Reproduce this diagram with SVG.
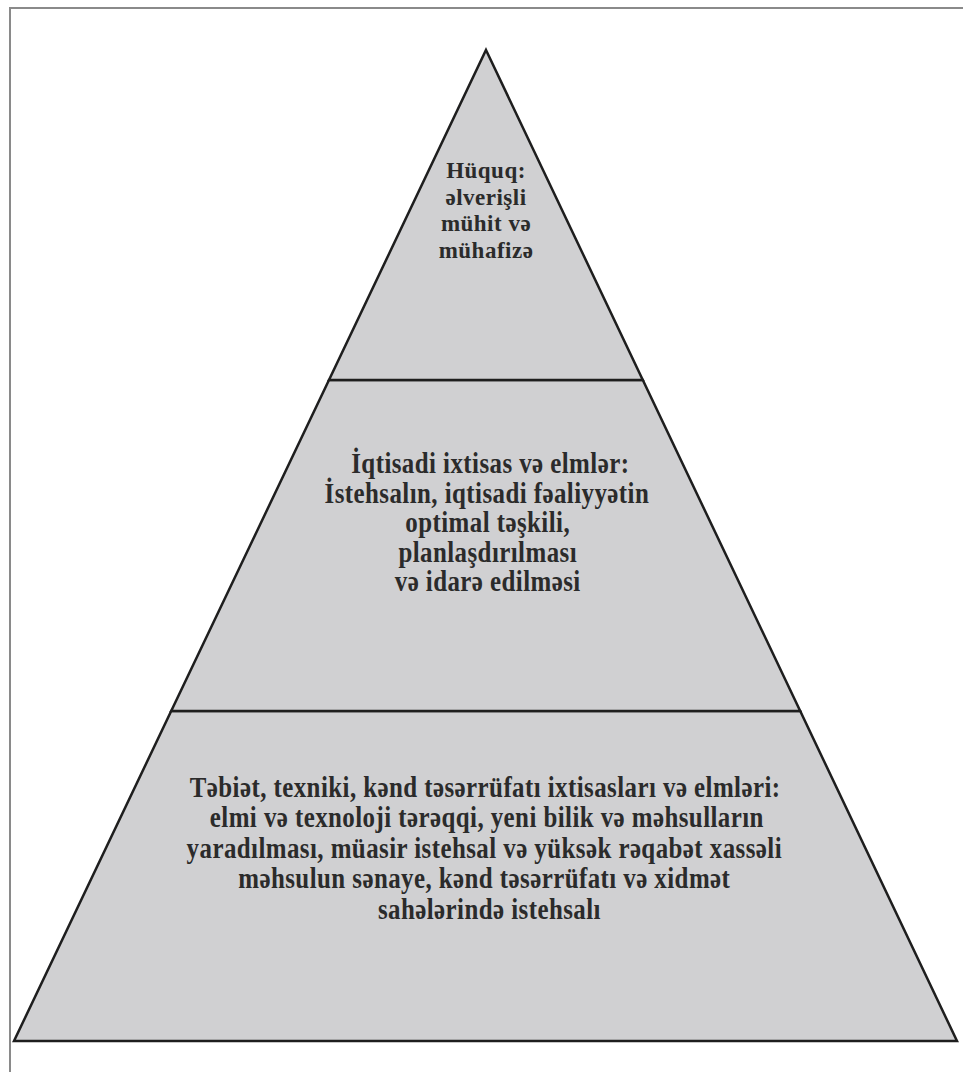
<svg xmlns="http://www.w3.org/2000/svg" width="963" height="1072" viewBox="0 0 963 1072">
<style>
.tier{fill:#d0d0d2;stroke:#1e1e1e;stroke-width:2.5;stroke-linejoin:miter}
.frame{stroke:#8a8a8a;stroke-width:2;fill:none}
.t{font-family:"Liberation Serif","Times New Roman",serif;font-weight:bold;font-size:29px;fill:#2b2b2b;text-anchor:middle;letter-spacing:0.5px}
.s{font-size:23px}
</style>
<rect width="963" height="1072" fill="#ffffff"/>
<path class="frame" d="M10,1072 V8 H963"/>
<g id="tier-bottom">
<polygon class="tier" points="171.2,711 800.2,711 957,1041 14,1041"/>
<g transform="translate(486,0) scale(0.86,1)">
<text class="t" x="-1" y="797">Təbiət, texniki, kənd təsərrüfatı ixtisasları və elmləri:</text>
<text class="t" x="1" y="827.5">elmi və texnoloji tərəqqi, yeni bilik və məhsulların</text>
<text class="t" x="-2" y="858">yaradılması, müasir istehsal və yüksək rəqabət xassəli</text>
<text class="t" x="-2" y="888.5">məhsulun sənaye, kənd təsərrüfatı və xidmət</text>
<text class="t" x="4" y="919">sahələrində istehsalı</text>
</g>
</g>
<g id="tier-middle">
<polygon class="tier" points="329,380 642.8,380 800.2,711 171.2,711"/>
<g transform="translate(486,0) scale(0.86,1)">
<text class="t" x="5" y="473">İqtisadi ixtisas və elmlər:</text>
<text class="t" x="1" y="503">İstehsalın, iqtisadi fəaliyyətin</text>
<text class="t" x="2" y="532">optimal təşkili,</text>
<text class="t" x="2" y="562">planlaşdırılması</text>
<text class="t" x="2" y="591">və idarə edilməsi</text>
</g>
</g>
<g id="tier-top">
<polygon class="tier" points="486,50 642.8,380 329,380"/>
<text class="t s" x="486" y="178">Hüquq:</text>
<text class="t s" x="486" y="204.5">əlverişli</text>
<text class="t s" x="486" y="231">mühit və</text>
<text class="t s" x="486" y="257.5">mühafizə</text>
</g>
<g id="connectors"></g>
</svg>
